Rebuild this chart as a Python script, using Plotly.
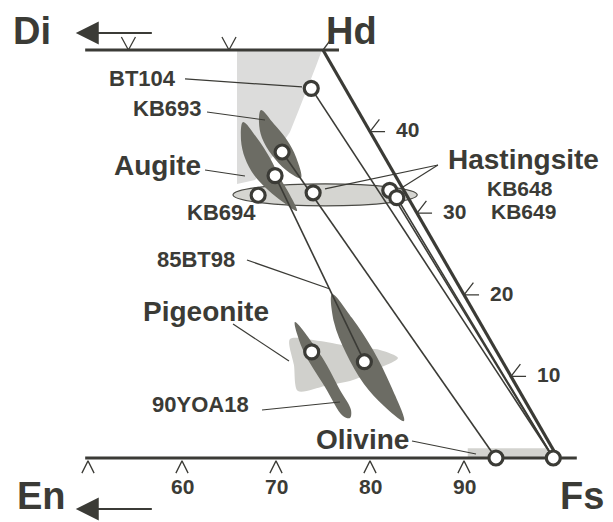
import plotly.graph_objects as go

# ---------------- data: compositions in mol% (Fs, Wo) ----------------
sample_names = ["BT104", "KB693", "85BT98-cpx", "KB694", "KB-hst", "KB648", "KB649",
                "90YOA18-pig", "85BT98-pig", "Ol-a", "Ol-b"]
sample_fs = [51.1, 51.9, 52.6, 52.0, 57.7, 65.7, 66.9, 67.3, 73.5, 93.4, 99.5]
sample_wo = [45.3, 37.5, 34.6, 32.2, 32.5, 32.8, 31.9, 13.0, 11.8, 0.0, 0.0]

tie_start = ["BT104", "KB648", "KB649", "KB693", "85BT98-cpx"]
tie_end = ["Ol-b", "Ol-b", "Ol-b", "Ol-a", "85BT98-pig"]

# composition fields
augite_field_fs = [40.85, 49.89, 50.24, 50.58, 50.86, 51.14, 51.51, 51.37, 51.10, 50.74, 49.06]
augite_field_wo = [50.00, 50.00, 48.04, 46.08, 44.24, 42.40, 39.95, 38.11, 36.52, 34.07, 33.58]

augite_trend_fs = [45.90, 46.79, 48.32, 50.32, 52.73, 55.05, 57.09, 55.37, 53.27, 50.98, 48.37]
augite_trend_wo = [41.18, 38.97, 36.76, 34.68, 32.84, 31.37, 30.27, 32.23, 34.31, 36.76, 39.22]

kb693_trend_fs = [47.08, 49.32, 51.68, 53.68, 55.50, 53.41, 51.00, 48.90, 47.60]
kb693_trend_wo = [42.65, 40.93, 38.97, 36.89, 34.31, 35.29, 37.13, 39.22, 41.18]

pigeonite_field_fs = [64.20, 67.51, 71.39, 74.44, 76.85, 75.55, 73.41, 70.80, 68.23, 66.21]
pigeonite_field_wo = [14.58, 14.34, 13.60, 13.24, 12.25, 11.03, 9.56, 8.82, 8.21, 11.40]

yoa_trend_fs = [63.68, 68.70, 72.64, 75.04, 75.42, 74.55, 70.86, 66.25]
yoa_trend_wo = [16.67, 12.38, 8.33, 5.88, 4.90, 5.15, 8.70, 13.24]

bt98_trend_fs = [65.91, 69.51, 73.70, 77.82, 81.35, 78.30, 74.82, 71.01, 67.83]
bt98_trend_wo = [20.10, 17.16, 13.24, 8.82, 4.53, 6.37, 9.07, 12.87, 16.67]

hastingsite_cpx_fs = [49.3, 68.9]      # Fs range of augite coexisting with hastingsite
hastingsite_cpx_wo = [30.9, 33.6]
olivine_fs = [90.4, 98.9]
olivine_wo = [0.0, 1.2]

# quadrilateral frame and ticks
top_edge_fs, top_edge_wo = [24.7, 51.7], [50, 50]
base_fs, base_wo = [49.7, 102.0], [0, 0]
side_fs, side_wo = [50, 100], [50, 0]
base_ticks = [50, 60, 70, 80, 90]
base_tick_labels = ["", "60", "70", "80", "90"]
side_ticks = [40, 30, 20, 10]
top_ticks_fs = [29.3, 40.0]

DARK = "#3b3b36"
LEAF = "#6c6c64"
FONT = "Liberation Sans, Arial, Helvetica, sans-serif"


def proj(fs, wo):
    return [f + w / 2 for f, w in zip(fs, wo)], list(wo)


def closed(fs, wo):
    x, y = proj(fs, wo)
    return x + [x[0]], y + [y[0]]


fig = go.Figure()

# light fields
x, y = closed(augite_field_fs, augite_field_wo)
fig.add_trace(go.Scatter(x=x, y=y, mode="lines", fill="toself", fillcolor="#dcdcdb",
                         line=dict(width=0, color="#dcdcdb")))
x, y = closed(pigeonite_field_fs, pigeonite_field_wo)
fig.add_trace(go.Scatter(x=x, y=y, mode="lines", fill="toself", fillcolor="#d0d0cc",
                         line=dict(width=0, color="#d0d0cc", shape="spline", smoothing=0.8)))

# ellipse of hastingsite-bearing augite, olivine range
ex0 = hastingsite_cpx_fs[0] + sum(hastingsite_cpx_wo) / 4
ex1 = hastingsite_cpx_fs[1] + sum(hastingsite_cpx_wo) / 4
fig.add_shape(type="circle", xref="x", yref="y", x0=ex0, x1=ex1,
              y0=hastingsite_cpx_wo[0], y1=hastingsite_cpx_wo[1],
              fillcolor="#d5d5d1", line=dict(color="#4a4a45", width=1.2), layer="below")
fig.add_shape(type="rect", xref="x", yref="y", x0=olivine_fs[0], x1=olivine_fs[1],
              y0=olivine_wo[0], y1=olivine_wo[1], fillcolor="#d3d3cf", line=dict(width=0),
              layer="below")

# dark trends
for fs, wo in [(augite_trend_fs, augite_trend_wo), (kb693_trend_fs, kb693_trend_wo),
               (yoa_trend_fs, yoa_trend_wo), (bt98_trend_fs, bt98_trend_wo)]:
    x, y = closed(fs, wo)
    fig.add_trace(go.Scatter(x=x, y=y, mode="lines", fill="toself", fillcolor=LEAF,
                             line=dict(width=0, color=LEAF, shape="spline", smoothing=1.0)))

# frame
for fs, wo in [(top_edge_fs, top_edge_wo), (base_fs, base_wo), (side_fs, side_wo)]:
    x, y = proj(fs, wo)
    fig.add_trace(go.Scatter(x=x, y=y, mode="lines", line=dict(color=DARK, width=3.2)))

# ticks
tx, ty = [], []
for f in base_ticks:
    tx += [f - 0.65, f, f + 0.65, None]
    ty += [-1.85, -0.35, -1.85, None]
for f in top_ticks_fs:
    X = f + 25
    tx += [X - 0.75, X, X + 0.75, None]
    ty += [51.6, 50, 51.6, None]
tx += [75, 76.1, None]
ty += [50, 51.7, None]
for w in side_ticks:
    X = 100 - w / 2
    tx += [X + 1.6, X, X + 1.0, None]
    ty += [w, w, w + 1.5, None]
fig.add_trace(go.Scatter(x=tx, y=ty, mode="lines", line=dict(color=DARK, width=1.3)))

# tie lines
idx = {n: i for i, n in enumerate(sample_names)}
lx, ly = [], []
for a, b in zip(tie_start, tie_end):
    xa, ya = proj([sample_fs[idx[a]], sample_fs[idx[b]]], [sample_wo[idx[a]], sample_wo[idx[b]]])
    lx += xa + [None]
    ly += ya + [None]
fig.add_trace(go.Scatter(x=lx, y=ly, mode="lines", line=dict(color=DARK, width=1.6)))

# leader lines (label -> feature), in diagram coordinates
leaders = [
    ((60.32, 46.45), (72.77, 45.47)),
    ((62.66, 42.40), (68.83, 41.42)),
    ((62.45, 35.29), (66.70, 34.56)),
    ((66.91, 24.26), (75.74, 20.71)),
    ((65.43, 16.42), (71.38, 11.89)),
    ((68.51, 5.88), (76.81, 6.86)),
    ((84.47, 2.08), (91.28, 0.49)),
    ((87.23, 35.91), (75.21, 32.97)),
    ((87.23, 35.91), (83.51, 33.21)),
]
mx, my = [], []
for (x0, y0), (x1, y1) in leaders:
    mx += [x0, x1, None]
    my += [y0, y1, None]
fig.add_trace(go.Scatter(x=mx, y=my, mode="lines", line=dict(color=DARK, width=1.2)))

# sample points
px_, py_ = proj(sample_fs, sample_wo)
fig.add_trace(go.Scatter(x=px_, y=py_, mode="markers",
                         marker=dict(symbol="circle", size=14, color="white",
                                     line=dict(color=DARK, width=3.2))))


# text
def label(text, x, y, size, xanchor="center"):
    fig.add_annotation(x=x, y=y, xref="x", yref="y", text=text, showarrow=False,
                       xanchor=xanchor, yanchor="middle",
                       font=dict(family=FONT, size=size, color=DARK, weight="bold"))


label("Di", 44.04, 52.3, 38)
label("Hd", 77.98, 52.3, 38)
label("En", 45.1, -4.6, 38)
label("Fs", 102.55, -4.6, 38)
label("BT104", 59.6, 46.5, 22, "right")
label("KB693", 62.2, 42.8, 22, "right")
label("Augite", 62.2, 35.8, 28, "right")
label("KB694", 68.1, 30.1, 22, "right")
label("85BT98", 65.9, 24.3, 22, "right")
label("Pigeonite", 62.55, 17.9, 28)
label("90YOA18", 67.3, 6.5, 22, "right")
label("Olivine", 79.15, 2.3, 28)
label("Hastingsite", 96.28, 36.6, 28)
label("KB648", 95.96, 33.0, 21)
label("KB649", 96.28, 30.15, 21)
for w in side_ticks:
    label(str(w), 100 - w / 2 + 3.95, w + 0.2, 21)
for f, t in zip(base_ticks, base_tick_labels):
    if t:
        label(t, f, -3.55, 21)

# direction arrows
for yv in (52.08, -6.25):
    fig.add_annotation(x=48.7, y=yv, ax=56.95, ay=yv, xref="x", yref="y", axref="x", ayref="y",
                       text="", showarrow=True, arrowhead=2, arrowsize=2.3, arrowwidth=2,
                       arrowcolor=DARK)

fig.update_layout(
    width=613, height=522, margin=dict(l=0, r=0, t=0, b=0),
    paper_bgcolor="white", plot_bgcolor="white", showlegend=False,
    xaxis=dict(range=[40.638, 105.851], visible=False, fixedrange=True),
    yaxis=dict(range=[-7.843, 56.127], visible=False, fixedrange=True),
    hovermode=False,
)
fig.write_html("out.html", config={"displayModeBar": False},
               post_script="document.body.style.margin='0px';")
